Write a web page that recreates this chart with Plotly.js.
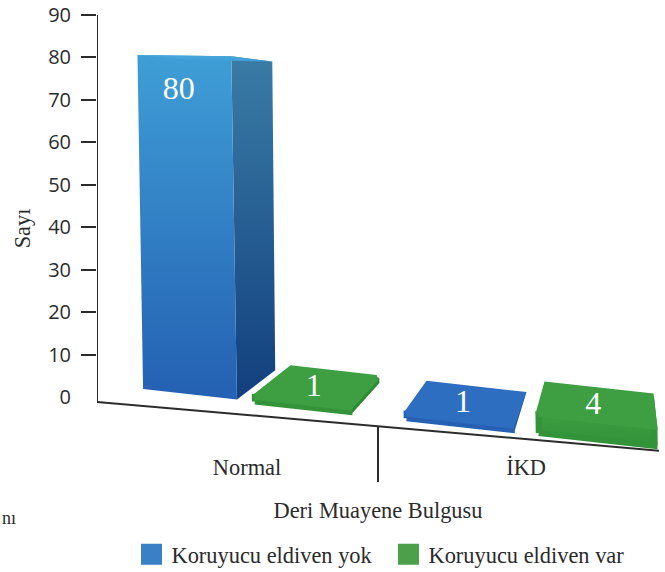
<!DOCTYPE html>
<html>
<head>
<meta charset="utf-8">
<script src="https://cdn.plot.ly/plotly-3.0.1.min.js"></script>
<style>html,body{margin:0;padding:0;background:#fff;overflow:hidden}</style>
</head>
<body>
<div id="chart" style="width:665px;height:572px"></div>
<script>
// Skin findings by glove use
const categories = ['Normal', 'İKD'];
const seriesNames = ['Koruyucu eldiven yok', 'Koruyucu eldiven var'];
const noGlove = [80, 1];
const withGlove = [1, 4];
const yTicks = [0, 10, 20, 30, 40, 50, 60, 70, 80, 90];
const yTickMarks = [10, 20, 30, 40, 50, 60, 70, 80, 90];

const serifFont = 'Liberation Serif';
const ink = '#2b2b2b';

// Slot of every bar along the floor, in category units
const slots = [[[0.164, 0.498], [0.562, 0.898]], [[1.102, 1.476], [1.572, 1.984]]];

// Oblique floor: u runs along the category axis, depth 0 is the front edge, 1 the back edge
function project(u, depth, value) {
  const frontV = 3.09 - 7.35 * u;
  const scale = (0.971 + 0.08 * u) * (depth ? 0.9 : 1);
  const lean = depth ? 0.00013 : 0.00025;
  return [u + depth * (0.186 - 0.1 * u) - value * lean, frontV + depth * (6.6 + 0.5 * u) + value * scale];
}

function face(points, stops, lineColor, lineWidth) {
  const xs = points.map(p => p[0]), ys = points.map(p => p[1]);
  return {
    type: 'scatter', mode: 'lines', x: [...xs, xs[0]], y: [...ys, ys[0]],
    fill: 'toself', hoverinfo: 'skip', showlegend: false,
    line: {color: lineColor, width: lineWidth},
    fillgradient: {type: 'vertical', colorscale: [[0, stops[0]], [1, stops[1]]],
      start: Math.min(...ys), stop: Math.max(...ys)}
  };
}

const blue = {front: ['#2460b2', '#3f9ed6'], side: ['#123f7e', '#3a7ca6'], top: ['#3f9ed6', '#4aa8dc'],
              low: ['#2560b3', '#2a68bc'], sideLow: '#1f549f', flat: ['#2e6ec0', '#2e6ec0'], edge: '#2e6ec0'};
const green = {front: ['#2a8a32', '#3a9a3e'], side: ['#2a7f30', '#35953a'], top: ['#38993c', '#46a848'],
               low: ['#339338', '#3b9c40'], sideLow: '#2d8a33', flat: ['#3e9f42', '#3e9f42'], edge: '#3e9f42'};

function barTraces(cat, ser, value, pal) {
  const [a, b] = slots[cat][ser];
  const pt = project;
  const clear = 'rgba(0,0,0,0)';
  const sidePts = [pt(b, 0, 0), pt(b, 1, 0), pt(b, 1, value), pt(b, 0, value)];
  const frontPts = [pt(a, 0, 0), pt(b, 0, 0), pt(b, 0, value), pt(a, 0, value)];
  const topPts = [pt(a, 0, value), pt(b, 0, value), pt(b, 1, value), pt(a, 1, value)];
  if (value > 20) {
    return [face(sidePts, pal.side, clear, 0), face(frontPts, pal.front, clear, 0), face(topPts, pal.top, clear, 0)];
  }
  // Low blocks get thick round-joined outlines, which soften their corners
  return [
    face(sidePts, pal.side, pal.sideLow, 6),
    face(frontPts, pal.low, pal.low[0], 6),
    face(topPts, pal.flat, pal.edge, 6)
  ];
}

const traces = [];
const series = [noGlove, withGlove];
const palettes = [blue, green];
categories.forEach((_, c) => series.forEach((vals, s) => traces.push(...barTraces(c, s, vals[c], palettes[s]))));

// Axis frame: slanted floor line, vertical axis and the divider between categories
const line = (x, y) => ({type: 'scatter', mode: 'lines', x, y, hoverinfo: 'skip', showlegend: false,
  line: {color: ink, width: 2}});
traces.push(line([0, 0], [90, -1.18]));
traces.push(line([0, 2.014], [-1.18, -12.72]));
traces.push(line([1, 1], [-7.07, -20.03]));

// Value labels sit on the top face of each bar, or just under the top of a tall one
const labelX = [], labelY = [], labelText = [];
categories.forEach((_, c) => series.forEach((vals, s) => {
  const [a, b] = slots[c][s], v = vals[c];
  const corners = [project(a, 0, v), project(b, 0, v), project(b, 1, v), project(a, 1, v)];
  const tall = v > 20;
  const mid = i => corners.reduce((t, p) => t + p[i], 0) / 4;
  labelX.push(tall ? (corners[0][0] + corners[1][0]) / 2 - 0.02 : mid(0) - 0.015);
  labelY.push(tall ? mid(1) - 7.8 : mid(1));
  labelText.push(String(v));
}));
traces.push({type: 'scatter', mode: 'text', x: labelX, y: labelY, text: labelText, hoverinfo: 'skip',
  showlegend: false, textposition: 'middle center',
  textfont: {family: serifFont, size: 32, color: '#ffffff'}});

// Legend keys
['#3a80c5', '#4da04a'].forEach((color, s) => traces.push({
  type: 'scatter', mode: 'markers', x: [null], y: [null], name: seriesNames[s], hoverinfo: 'skip',
  marker: {symbol: 'square', size: 16, color, line: {color, width: 5}}
}));

const textFont = {family: serifFont, size: 22.4, color: ink};

const layout = {
  width: 665, height: 572, paper_bgcolor: '#fff', plot_bgcolor: 'rgba(0,0,0,0)',
  margin: {l: 97, r: 6, t: 12, b: 90},
  font: {family: serifFont, color: ink},
  xaxis: {
    range: [0, 2], showgrid: false, zeroline: false, showline: false, ticks: '',
    anchor: 'free', position: 0.068,
    tickmode: 'array', tickvals: [0.534, 1.527], ticktext: categories,
    tickfont: textFont, ticklabelstandoff: 2,
    title: {text: 'Deri Muayene Bulgusu', font: textFont, standoff: 22}
  },
  yaxis: {
    range: [-20.03, 90.72], showgrid: false, zeroline: false, showline: false,
    tickmode: 'array', tickvals: yTicks, ticks: '', ticklabelstandoff: 25,
    tickfont: {family: 'Open Sans', size: 20, color: ink},
    minor: {tickmode: 'array', tickvals: yTickMarks, ticks: 'outside', ticklen: 15, tickwidth: 2, tickcolor: ink, showgrid: false}
  },
  showlegend: true,
  legend: {orientation: 'h', x: 0.0614, xanchor: 'left', yref: 'container', y: 0.068, yanchor: 'top', itemwidth: 30,
    entrywidth: 212, entrywidthmode: 'pixels', font: textFont, bgcolor: 'rgba(0,0,0,0)'},
  annotations: [
    {xref: 'paper', yref: 'y', x: -0.133, y: 39.8, xanchor: 'center', yanchor: 'middle', textangle: -90,
      text: 'Sayı', showarrow: false, font: textFont},
    {xref: 'paper', yref: 'paper', x: -0.1726, y: -0.0766, xanchor: 'left', yanchor: 'middle',
      text: 'nı', showarrow: false, font: {family: serifFont, size: 18, color: ink}}
  ]
};

Plotly.newPlot('chart', traces, layout, {displayModeBar: false, staticPlot: true});
</script>
</body>
</html>
